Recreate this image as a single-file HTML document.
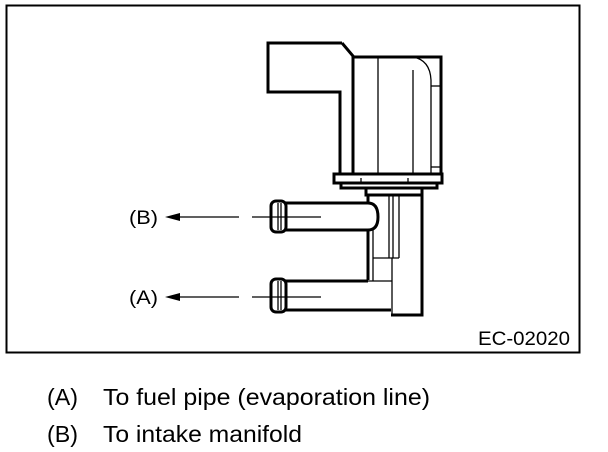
<!DOCTYPE html>
<html><head><style>
body{margin:0;background:#fff;width:608px;height:452px;overflow:hidden}
svg{position:absolute;left:0;top:0}
</style></head><body>
<svg width="608" height="452" viewBox="0 0 608 452" font-family="Liberation Sans, Arial, sans-serif">
<rect x="6.5" y="5.5" width="573" height="347" fill="none" stroke="#000" stroke-width="2"/>
<g fill="none" stroke="#000" stroke-width="3" stroke-linejoin="miter">
<path d="M342 43 H268 V92 H340 V173"/>
<path d="M342 43 L353 56 V173"/>
<path d="M353 57 H441 V173"/>
<rect x="334" y="174" width="108" height="9"/>
<path d="M341 183 V188 H437 V183"/>
<path d="M366 188 V195 H422 V188"/>
<path d="M422 195 V315 H391"/>
<path d="M368 195 V203"/>
<path d="M368 230 V280"/>
<path d="M285 203 H368 Q378 203 378 217 Q378 230 368 230 H285"/>
<rect x="271" y="201" width="15" height="31" rx="5"/>
<path d="M285 281 H368"/>
<path d="M285 310 H391"/>
<rect x="271" y="279" width="15" height="33" rx="5"/>
</g>
<g fill="none" stroke="#000" stroke-width="1.3">
<line x1="378" y1="57" x2="378" y2="173"/>
<line x1="413" y1="70" x2="413" y2="173"/>
<path d="M413 57 Q430 60 431 80 V173"/>
<line x1="431" y1="86" x2="441" y2="86"/>
<line x1="431" y1="167" x2="441" y2="167"/>
<line x1="361" y1="178" x2="361" y2="183"/>
<line x1="408" y1="178" x2="408" y2="183"/>
<line x1="389" y1="195" x2="389" y2="258"/>
<line x1="393" y1="195" x2="393" y2="258"/>
<line x1="399" y1="195" x2="399" y2="258"/>
<line x1="373" y1="258" x2="399" y2="258"/>
<line x1="373" y1="230" x2="373" y2="281"/>
<line x1="392" y1="258" x2="392" y2="315"/>
<line x1="368" y1="281" x2="392" y2="281"/>
<line x1="278" y1="203" x2="278" y2="230"/>
<line x1="281" y1="203" x2="281" y2="230"/>
<line x1="278" y1="281" x2="278" y2="310"/>
<line x1="281" y1="281" x2="281" y2="310"/>
<line x1="170" y1="217" x2="239" y2="217"/>
<line x1="252" y1="217" x2="321" y2="217"/>
<line x1="170" y1="297" x2="239" y2="297"/>
<line x1="252" y1="297" x2="321" y2="297"/>
</g>
<polygon points="165,217 180,213 180,221" fill="#000"/>
<polygon points="165,297 180,293 180,301" fill="#000"/>
<text x="129" y="224" font-size="19" textLength="29" lengthAdjust="spacingAndGlyphs">(B)</text>
<text x="129" y="304" font-size="19" textLength="29" lengthAdjust="spacingAndGlyphs">(A)</text>
<text x="478" y="345" font-size="19" textLength="92" lengthAdjust="spacingAndGlyphs">EC-02020</text>
<text x="47" y="405" font-size="23" textLength="31" lengthAdjust="spacingAndGlyphs">(A)</text>
<text x="103" y="405" font-size="23" textLength="327" lengthAdjust="spacingAndGlyphs">To fuel pipe (evaporation line)</text>
<text x="47" y="442" font-size="23" textLength="31" lengthAdjust="spacingAndGlyphs">(B)</text>
<text x="103" y="442" font-size="23" textLength="199" lengthAdjust="spacingAndGlyphs">To intake manifold</text>
</svg>
</body></html>
